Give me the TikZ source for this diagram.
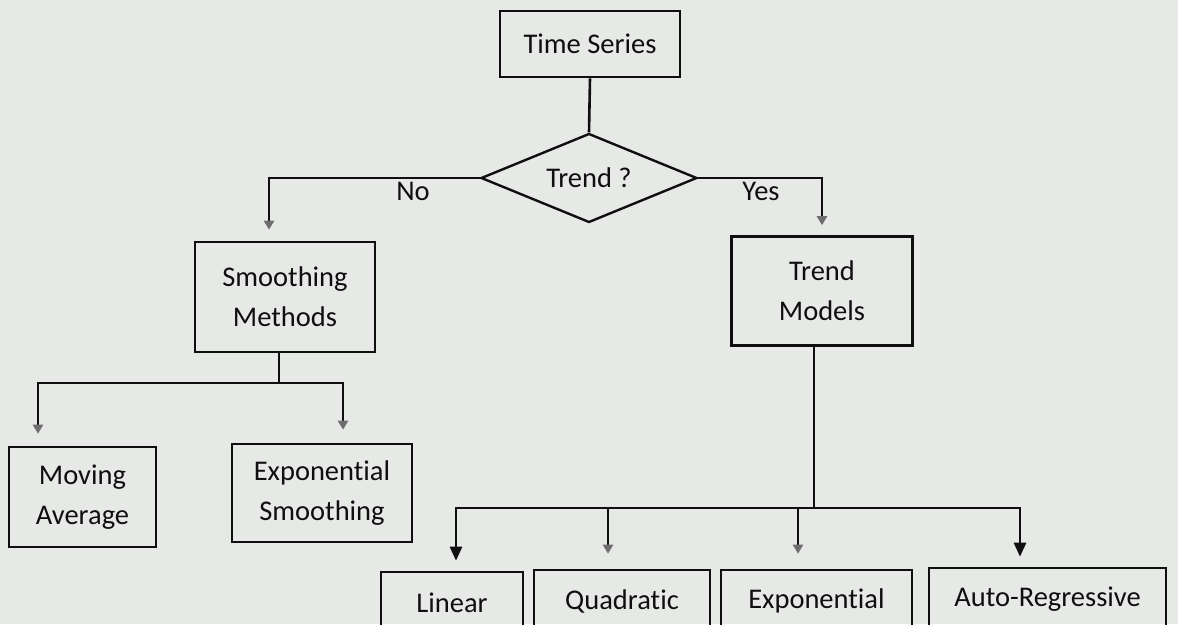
\documentclass[tikz,border=0pt]{standalone}
\usepackage{fontspec}
\setmainfont{Carlito}[Ligatures={NoCommon}]
\usetikzlibrary{shapes.geometric,arrows.meta}
\definecolor{paper}{RGB}{231,233,231}
\definecolor{ink}{RGB}{15,15,15}
\definecolor{fainttip}{RGB}{110,110,110}
\tikzset{
  box/.style={draw=ink, line width=2.6pt, rectangle, inner sep=0pt, align=center,
              font=\fontsize{28.5}{40}\selectfont, text=ink},
  decision/.style={draw=ink, line width=2.4pt, diamond, inner sep=0pt,
              minimum width=216pt, minimum height=89pt, aspect=2.43,
              font=\fontsize{28.5}{34}\selectfont, text=ink},
  conn/.style={draw=ink, line width=2.6pt},
  arrsolid/.style={conn, -{Triangle[width=12pt,length=14pt]}},
  arrfaint/.style={conn, -{Triangle[width=10pt,length=9pt,color=fainttip]}},
  lbl/.style={font=\fontsize{28.5}{34}\selectfont, text=ink, inner sep=0pt}
}
\begin{document}
\begin{tikzpicture}[x=1pt,y=-1pt]
  % page
  \fill[paper] (0,0) rectangle (1178,624);
  \useasboundingbox (0,0) rectangle (1178,624);
  \clip (0,0) rectangle (1178,624);

  % nodes
  \node[box, minimum width=180pt, minimum height=66pt] (ts) at (590,44) {Time Series};
  \node[decision] (trendq) at (589,178) {Trend ?};
  \node[box, minimum width=180pt, minimum height=110pt] (smooth) at (285,297) {Smoothing\\Methods};
  \node[box, minimum width=181pt, minimum height=109pt] (trend) at (822,291) {Trend\\Models};
  \node[box, minimum width=147pt, minimum height=100pt] (movavg) at (82.5,497) {Moving\\Average};
  \node[box, minimum width=180pt, minimum height=98pt] (expsm) at (322,493) {Exponential\\Smoothing};
  \node[box, minimum width=142pt, minimum height=62pt] (lin) at (452,603) {Linear};
  \node[box, minimum width=176pt, minimum height=62pt] (quad) at (622,601) {Quadratic};
  \node[box, minimum width=191pt, minimum height=62pt] (expo) at (816.5,601) {Exponential};
  \node[box, minimum width=237pt, minimum height=62pt] (autoreg) at (1047.5,599) {Auto-Regressive};

  % junction points
  \coordinate (sbus) at (279,383);
  \coordinate (tbus) at (814,508);

  % connectors
  \draw[conn] (ts.south) -- (trendq.north);
  \draw[arrfaint, shorten >=11pt] (trendq.west) -| ([xshift=-16pt]smooth.north);
  \draw[arrfaint, shorten >=10pt] (trendq.east) -| (trend.north);
  \node[lbl] (no) at (413,191) {No};
  \node[lbl] (yes) at (761,191) {Yes};

  \draw[conn] ([xshift=-6pt]smooth.south) -- (sbus);
  \draw[arrfaint, shorten >=12pt] (sbus) -| ([xshift=-44.5pt]movavg.north);
  \draw[arrfaint, shorten >=13pt] (sbus) -| ([xshift=21pt]expsm.north);

  \draw[conn] ([xshift=-8pt]trend.south) -- (tbus);
  \draw[arrsolid, shorten >=10pt] (tbus) -| ([xshift=4pt]lin.north);
  \draw[arrfaint, shorten >=15pt] (tbus) -| ([xshift=-14pt]quad.north);
  \draw[arrfaint, shorten >=15pt] (tbus) -| ([xshift=-18.5pt]expo.north);
  \draw[arrsolid, shorten >=10pt] (tbus) -| ([xshift=-27.5pt]autoreg.north);
\end{tikzpicture}
\end{document}
